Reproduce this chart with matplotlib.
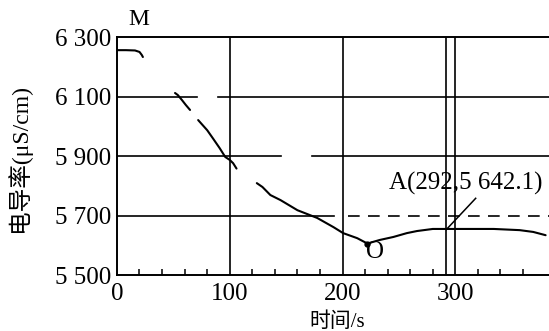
import matplotlib
matplotlib.use("Agg")
import matplotlib.pyplot as plt

plt.rcParams["font.family"] = ["Liberation Serif", "Noto Sans CJK SC"]

# curve pieces (time in s, conductivity in uS/cm)
m_t = [0, 8, 16, 20, 22, 23]
m_y = [6256, 6256, 6255, 6250, 6240, 6233]

drop1_t = [51.5, 54, 57.7, 61, 64.8]
drop1_y = [6112, 6105, 6088, 6072, 6055]

drop2_t = [72, 80, 85, 91, 96, 100, 103, 106]
drop2_y = [6021, 5987, 5960, 5927, 5897, 5887, 5876, 5858]

tail_t = [124, 129, 136, 145, 160, 177.5, 192, 200.5, 213, 222,
          233, 245, 257, 266, 280, 295, 334, 357, 369, 380]
tail_y = [5809, 5796, 5769, 5752, 5718, 5692, 5661, 5641, 5624, 5606,
          5618, 5628, 5641, 5648, 5655, 5655, 5655, 5651, 5645, 5634]

o_point = (222, 5606)
a_point = (292, 5653)
a_label = "A(292,5 642.1)"

y_ticks = [5500, 5700, 5900, 6100, 6300]
y_labels = ["5 500", "5 700", "5 900", "6 100", "6 300"]
x_ticks = [0, 100, 200, 300]
x_minor = [20, 40, 60, 80, 120, 140, 160, 180, 220, 240, 260, 280, 320, 340, 360]

fig = plt.figure(figsize=(5.49, 3.31), dpi=100)
ax = fig.add_axes([0.213, 0.169, 0.787, 0.719])
ax.set_xlim(0, 383)
ax.set_ylim(5500, 6300)

lw_grid = 1.2
# horizontal grid, with the breaks seen in the print
ax.plot([0, 71], [6100, 6100], color="k", lw=lw_grid)
ax.plot([90, 383], [6100, 6100], color="k", lw=lw_grid)
ax.plot([0, 145], [5900, 5900], color="k", lw=lw_grid)
ax.plot([173, 383], [5900, 5900], color="k", lw=lw_grid)
ax.plot([0, 192], [5700, 5700], color="k", lw=lw_grid)
ax.plot([205, 383], [5700, 5700], color="k", lw=lw_grid, dashes=(7, 5))
for xv in [100, 200, 300, a_point[0]]:
    ax.axvline(xv, color="k", lw=lw_grid)

lw_curve = 1.5
for t, y in [(m_t, m_y), (drop1_t, drop1_y), (drop2_t, drop2_y), (tail_t, tail_y)]:
    ax.plot(t, y, color="k", lw=lw_curve, solid_capstyle="round")
ax.plot(*o_point, "o", color="k", ms=3.5)

# leader from A up to its label
ax.plot([a_point[0], 318], [a_point[1], 5758], color="k", lw=1.1)
ax.text(309, 5768, a_label, fontsize=18, ha="center", va="bottom")
ax.text(o_point[0] + 7, o_point[1] - 27, "O", fontsize=18, ha="center", va="center")
ax.text(19, 6360, "M", fontsize=17, ha="center", va="center", clip_on=False)

ax.spines["right"].set_visible(False)
for s in ["left", "bottom", "top"]:
    ax.spines[s].set_linewidth(1.4)

ax.set_yticks(y_ticks)
ax.set_yticklabels(y_labels, fontsize=18)
ax.set_xticks(x_ticks)
ax.set_xticklabels([str(v) for v in x_ticks], fontsize=18)
ax.set_xticks(x_minor, minor=True)
ax.tick_params(axis="y", length=0, pad=4)
ax.tick_params(axis="x", which="major", length=0, pad=6)
ax.tick_params(axis="x", which="minor", direction="in", length=4, width=1.1)

ax.set_ylabel("电导率(μS/cm)", fontsize=17)
ax.yaxis.set_label_coords(-0.2, 0.49)
ax.set_xlabel("时间/s", fontsize=15)
ax.xaxis.set_label_coords(0.51, -0.155)

fig.savefig("out.png", dpi=100)
